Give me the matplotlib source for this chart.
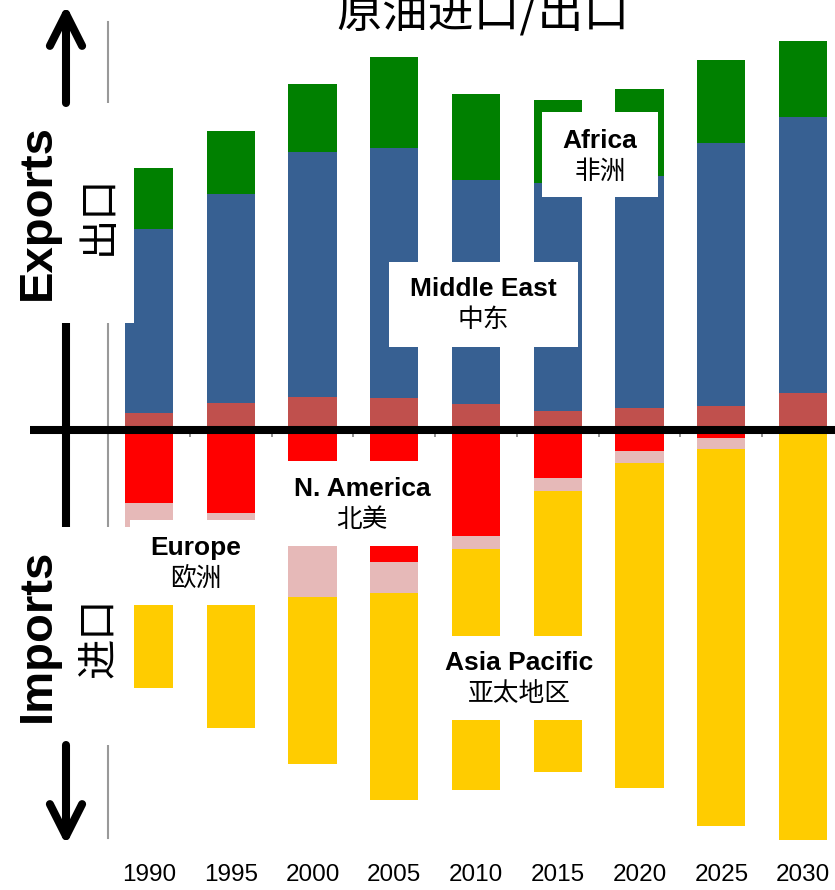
import matplotlib
matplotlib.use("Agg")
import matplotlib.pyplot as plt
import matplotlib.transforms as mtransforms
from matplotlib.patches import Rectangle, FancyArrowPatch
from matplotlib.lines import Line2D
import numpy as np

# Crude oil trade by region, million barrels per day
years = ["1990", "1995", "2000", "2005", "2010", "2015", "2020", "2025", "2030"]

# exports (positive side)
exp_namerica = [1.7, 2.7, 3.3, 3.2, 2.6, 1.9, 2.2, 2.4, 3.7]
exp_mideast = [18.4, 20.9, 24.5, 25.0, 22.4, 22.8, 23.2, 26.3, 27.6]
exp_africa = [6.1, 6.3, 6.8, 9.1, 8.6, 8.3, 8.7, 8.3, 7.6]

# imports (drawn downward)
imp_namerica = [7.3, 8.3, 11.2, 13.2, 10.6, 4.8, 2.1, 0.8, 0.0]
imp_europe = [4.0, 5.0, 5.5, 3.1, 1.3, 1.3, 1.2, 1.1, 0.0]
imp_asia = [14.5, 16.5, 16.7, 20.7, 24.1, 28.1, 32.5, 37.7, 41.0]

C_NAM_EXP = "#C0504D"
C_MIDEAST = "#376092"
C_AFRICA = "#008000"
C_NAM_IMP = "#FF0000"
C_EUROPE = "#E6B9B8"
C_ASIA = "#FFCC00"

W, H = 835, 890
fig = plt.figure(figsize=(W / 100, H / 100), dpi=100)


def fx(px):
    return px / W


def fy(py):
    return 1 - py / H


ax = fig.add_axes([fx(108), fy(838), fx(844) - fx(108), fy(22) - fy(838)])

x = np.arange(len(years))
bw = 0.59

e1 = np.array(exp_namerica)
e2 = np.array(exp_mideast)
e3 = np.array(exp_africa)
ax.bar(x, e1, bw, color=C_NAM_EXP, clip_on=False)
ax.bar(x, e2, bw, bottom=e1, color=C_MIDEAST, clip_on=False)
ax.bar(x, e3, bw, bottom=e1 + e2, color=C_AFRICA, clip_on=False)

i1 = np.array(imp_namerica)
i2 = np.array(imp_europe)
i3 = np.array(imp_asia)
ax.bar(x, -i1, bw, color=C_NAM_IMP, clip_on=False)
ax.bar(x, -i2, bw, bottom=-i1, color=C_EUROPE, clip_on=False)
ax.bar(x, -i3, bw, bottom=-(i1 + i2), color=C_ASIA, clip_on=False)

ax.set_xlim(-0.5, len(years) - 0.5)
ax.set_ylim(-40.8, 40.8)

for s in ("top", "right"):
    ax.spines[s].set_visible(False)
ax.spines["left"].set_color("#999999")
ax.spines["left"].set_linewidth(1.5)
ax.spines["bottom"].set_position(("data", 0))
ax.spines["bottom"].set_visible(False)
ax.set_yticks([])
ax.set_xticks([])
ax.set_xticks(np.arange(0.5, len(years) - 0.5, 1.0), minor=True)
ax.tick_params(axis="x", which="minor", direction="out", length=5,
               width=1.3, color="#888888", labelbottom=False)

# year labels along the bottom
blend = mtransforms.blended_transform_factory(ax.transData, fig.transFigure)
for xi, yr in zip(x, years):
    ax.text(xi, fy(875), yr, transform=blend, ha="center", va="center",
            fontsize=17.5, family=["Liberation Sans", "DejaVu Sans"],
            clip_on=False)

# white label panels over the bars
def panel(x0, y0, x1, y1):
    fig.add_artist(Rectangle((fx(x0), fy(y1)), fx(x1) - fx(x0), fy(y0) - fy(y1),
                             transform=fig.transFigure, facecolor="white",
                             edgecolor="none", zorder=2))


EN = dict(fontsize=19, fontweight="bold", family=["Liberation Sans", "DejaVu Sans"],
          ha="center", va="center", zorder=4)
ZH = dict(fontsize=18.5, family=["Noto Sans CJK SC", "DejaVu Sans"],
          ha="center", va="center", zorder=4)

labels = [
    ("Africa", "非洲", 600, 141, 172, (542, 112, 658, 197)),
    ("Middle East", "中东", 483, 289, 320, (389, 262, 578, 347)),
    ("N. America", "北美", 362, 489, 520, (284, 461, 440, 546)),
    ("Europe", "欧洲", 196, 548, 579, (130, 520, 262, 605)),
    ("Asia Pacific", "亚太地区", 519, 663, 694, (434, 636, 604, 720)),
]
for en, zh, cx, ye, yz, box in labels:
    panel(*box)
    fig.text(fx(cx), fy(ye), en, **EN)
    fig.text(fx(cx), fy(yz), zh, **ZH)

# side captions
panel(0, 103, 134, 323)
panel(0, 527, 134, 745)
SIDE_EN = dict(fontsize=34, fontweight="bold", family=["Liberation Sans", "DejaVu Sans"],
               rotation=90, ha="center", va="center", zorder=4)
SIDE_ZH = dict(fontsize=29, family=["Noto Sans CJK SC", "DejaVu Sans"],
               rotation=90, ha="center", va="center", zorder=4)
fig.text(fx(38), fy(212), "Exports", **SIDE_EN)
fig.text(fx(98), fy(215), "出口", **SIDE_ZH)
fig.text(fx(38), fy(635), "Imports", **SIDE_EN)
fig.text(fx(98), fy(638), "进口", **SIDE_ZH)

# zero line and the cross / arrows on the left
LW = 5.8
fig.add_artist(Line2D([fx(30), fx(835)], [fy(430), fy(430)], color="black",
                      lw=LW, transform=fig.transFigure, zorder=5,
                      solid_capstyle="butt"))
fig.add_artist(Line2D([fx(66), fx(66)], [fy(323), fy(527)], color="black",
                      lw=LW, transform=fig.transFigure, zorder=5,
                      solid_capstyle="butt"))
for y_start, y_end in ((103, 5), (745, 845)):
    fig.add_artist(FancyArrowPatch((fx(66), fy(y_start)), (fx(66), fy(y_end)),
                                   transform=fig.transFigure,
                                   arrowstyle="->,head_length=1.15,head_width=0.58",
                                   mutation_scale=20, lw=LW, color="black",
                                   shrinkA=0, shrinkB=0, zorder=5))

fig.text(fx(483), fy(27), "原油进口/出口", ha="center", va="baseline", fontsize=33,
         fontweight="medium", family=["Noto Sans CJK SC", "DejaVu Sans"], zorder=4)

fig.savefig("out.png", dpi=100)
